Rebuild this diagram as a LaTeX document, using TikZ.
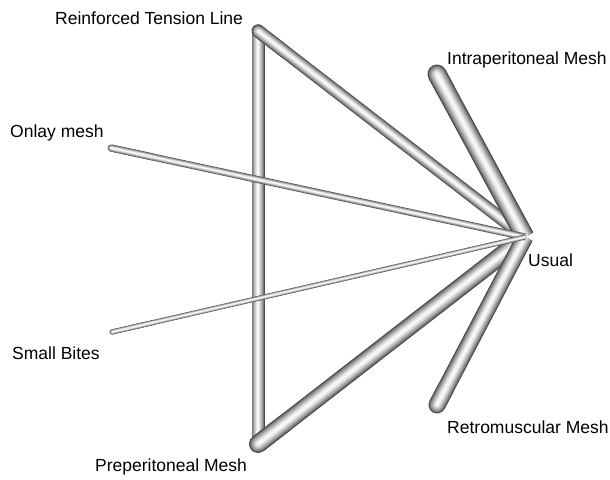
\documentclass[tikz,border=0pt]{standalone}
\usepackage{fontspec}
\setmainfont{Liberation Sans}
\usetikzlibrary{calc}

% A shaded tube: stacked strokes, dark rim to light core.
% #1 width (pt), #2 far end, #3 near end, #4 cap at near end
\newcommand\tube[4]{%
  \foreach \f/\c in {1/70,0.86/52,0.72/40,0.58/29,0.44/19,0.30/10,0.16/3}{%
    \pgfmathsetmacro\lw{\f*#1}%
    \draw[line width=\lw pt, black!\c, line cap=#4] (#2) -- (#3);
    \draw[line width=\lw pt, black!\c, line cap=round] (#2) -- ($(#2)!0.1!(#3)$);
  }%
}

\tikzset{lbl/.style={inner sep=0pt, font=\fontsize{17.5}{20}\selectfont, text=black}}

\begin{document}
\begin{tikzpicture}[x=1pt,y=-1pt]
  \useasboundingbox (0,0) rectangle (610,479);
  \fill[white] (0,0) rectangle (610,479);

  % treatment positions
  \coordinate (rtl)   at (258,31);
  \coordinate (intra) at (437,74);
  \coordinate (onlay) at (111,148);
  \coordinate (usual) at (525,237);
  \coordinate (small) at (112,332);
  \coordinate (retro) at (437,405);
  \coordinate (prep)  at (258,444);

  % comparisons
  \tube{13}{rtl}{prep}{round}
  \tube{13}{rtl}{usual}{butt}
  \tube{18}{prep}{usual}{butt}
  \tube{19}{intra}{usual}{butt}
  \tube{17}{retro}{usual}{butt}
  \tube{7}{onlay}{usual}{butt}
  \tube{5}{small}{usual}{butt}

  % treatment labels
  \node[lbl, anchor=west] (lrtl)   at (55,18)   {Reinforced Tension Line};
  \node[lbl, anchor=west] (lintra) at (447,60)  {Intraperitoneal Mesh};
  \node[lbl, anchor=west] (lonlay) at (10,133)  {Onlay mesh};
  \node[lbl, anchor=west] (lusual) at (528,260) {Usual};
  \node[lbl, anchor=west] (lsmall) at (12,353)  {Small Bites};
  \node[lbl, anchor=west] (lretro) at (447,427) {Retromuscular Mesh};
  \node[lbl, anchor=west] (lprep)  at (95,467)  {Preperitoneal Mesh};
\end{tikzpicture}
\end{document}
